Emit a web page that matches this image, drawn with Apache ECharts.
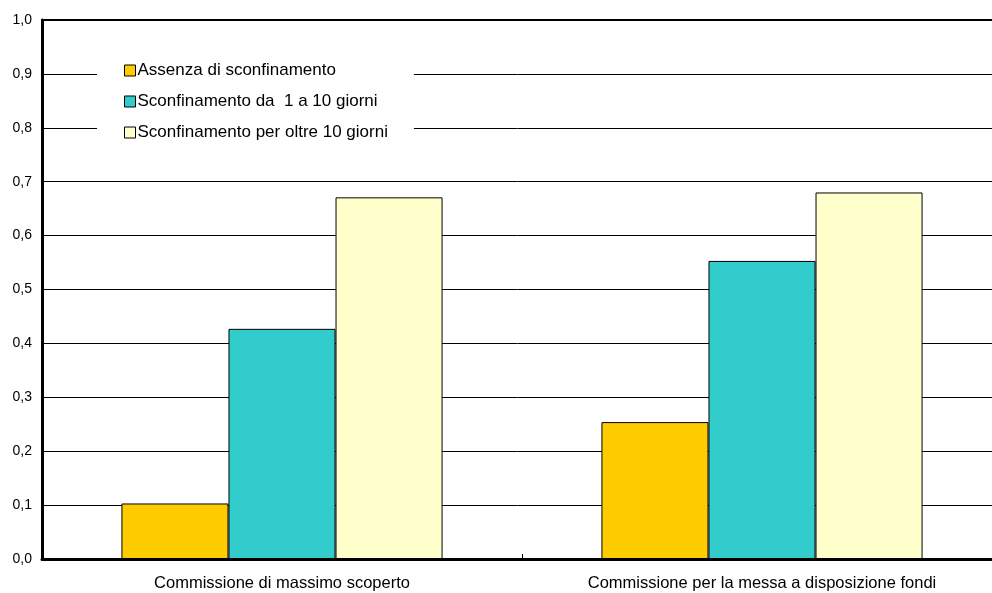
<!DOCTYPE html>
<html>
<head>
<meta charset="utf-8">
<script src="https://cdn.jsdelivr.net/npm/echarts@6/dist/echarts.min.js"></script>
<style>
  html, body { margin: 0; padding: 0; background: #fff; }
  #chart { width: 992px; height: 593px; }
</style>
</head>
<body>
<div id="chart"></div>
<script>
const categories = ['Commissione di massimo scoperto', 'Commissione per la messa a disposizione fondi']
const seriesNames = ['Assenza di sconfinamento', 'Sconfinamento da  1 a 10 giorni', 'Sconfinamento per oltre 10 giorni']
const assenza = [0.103, 0.254]
const da1a10 = [0.427, 0.553]
const oltre10 = [0.671, 0.680]
const colors = ['#FFCC00', '#33CCCC', '#FFFFCC']

const myChart = echarts.init(document.getElementById('chart'))
const seriesData = [assenza, da1a10, oltre10]

const series = seriesNames.map(function (name, idx) {
    return {
        name: name,
        type: 'bar',
        data: seriesData[idx],
        barWidth: '22.3%',
        barGap: '0%',
        itemStyle: { color: colors[idx], borderColor: '#000', borderWidth: 1 }
    }
})

const option = {
    animation: false,
    backgroundColor: '#fff',
    textStyle: { fontFamily: 'Liberation Sans, Arial, sans-serif' },
    grid: {
        left: 42, top: 20, width: 960, height: 539,
        outerBoundsMode: 'none',
        containLabel: false,
        show: true, backgroundColor: '#fff', borderColor: '#000', borderWidth: 2
    },
    legend: {
        orient: 'vertical',
        left: 97,
        top: 56,
        backgroundColor: '#fff',
        padding: [6, 26, 6, 27],
        itemGap: 14,
        itemWidth: 11,
        itemHeight: 11,
        icon: 'rect',
        itemStyle: { borderColor: '#000', borderWidth: 1 },
        textStyle: { fontSize: 17, color: '#000', padding: [0, 0, 0, -3] },
        data: seriesNames
    },
    xAxis: {
        type: 'category',
        data: categories,
        axisLine: { lineStyle: { color: '#000', width: 3 } },
        axisTick: { show: true, inside: true, length: 5, lineStyle: { color: '#000' } },
        axisLabel: { color: '#000', fontSize: 16.5, margin: 16 }
    },
    yAxis: {
        type: 'value',
        min: 0,
        max: 1,
        interval: 0.1,
        axisLine: { show: true, lineStyle: { color: '#000', width: 3 } },
        axisTick: { show: false },
        axisLabel: {
            color: '#000', fontSize: 14, margin: 10,
            formatter: function (v) { return v.toFixed(1).replace('.', ',') }
        },
        splitLine: { lineStyle: { color: '#000', width: 1 } }
    },
    series: series
}
myChart.setOption(option)
</script>
</body>
</html>
